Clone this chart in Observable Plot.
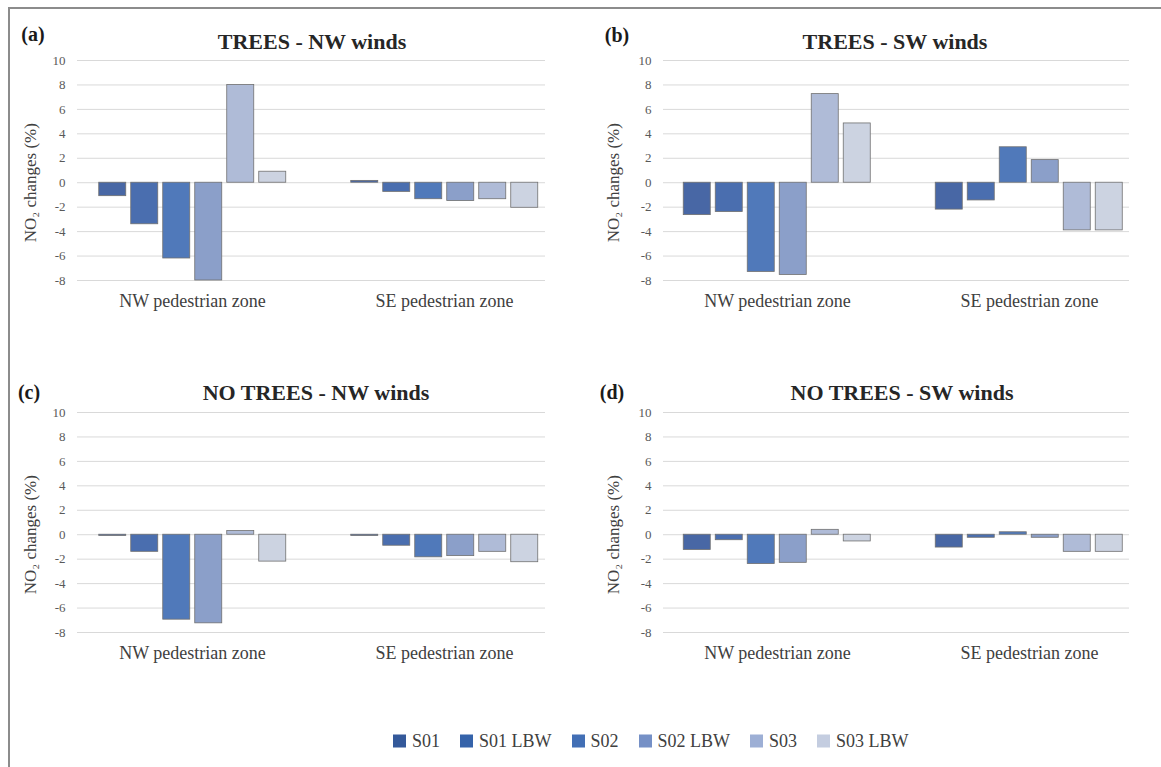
<!DOCTYPE html>
<html>
<head>
<meta charset="utf-8">
<script src="https://cdn.jsdelivr.net/npm/d3@7"></script>
<script src="https://cdn.jsdelivr.net/npm/@observablehq/plot@0.6"></script>
<style>
  body { margin: 0; background: #fff; }
  #root { position: relative; width: 1161px; height: 767px; overflow: hidden; background: #fff;
          font-family: "Liberation Serif", "Times New Roman", serif; }
  .panel { position: absolute; }
  .panel svg { position: absolute; left: 0; top: 0; }
  .title { position: absolute; transform: translate(-50%, -50%); font-weight: bold; font-size: 22px;
           color: #262626; white-space: nowrap; }
  .letter { position: absolute; transform: translate(-50%, -50%); font-weight: bold; font-size: 20px;
            color: #1a1a1a; white-space: nowrap; }
  .frame { position: absolute; background: #8c8c8c; }
  #legend { position: absolute; left: 393px; top: 741px; transform: translateY(-50%); display: flex;
            align-items: center; font-size: 18px; color: #404040; white-space: nowrap; }
  #legend .item { display: flex; align-items: center; margin-right: 20px; }
  #legend .sw { width: 13px; height: 13px; margin-right: 6px; }
</style>
</head>
<body>
<div id="root"></div>
<script>
// ---------- data ----------
const groups = ["NW pedestrian zone", "SE pedestrian zone"];
const series = ["S01", "S01 LBW", "S02", "S02 LBW", "S03", "S03 LBW"];
const yTicks = [-8, -6, -4, -2, 0, 2, 4, 6, 8, 10];
const panelLetters = ["(a)", "(b)", "(c)", "(d)"];
const panelTitles = ["TREES - NW winds", "TREES - SW winds", "NO TREES - NW winds", "NO TREES - SW winds"];
const yLabel = "NO\u2082 changes (%)";

const treesNW_NW = [-1.1, -3.4, -6.2, -8.0, 8.0, 0.9];
const treesNW_SE = [0.15, -0.75, -1.35, -1.5, -1.35, -2.05];
const treesSW_NW = [-2.65, -2.4, -7.3, -7.55, 7.25, 4.85];
const treesSW_SE = [-2.2, -1.45, 2.9, 1.85, -3.9, -3.9];
const noTreesNW_NW = [-0.1, -1.4, -6.95, -7.25, 0.3, -2.2];
const noTreesNW_SE = [-0.1, -0.9, -1.85, -1.75, -1.4, -2.25];
const noTreesSW_NW = [-1.25, -0.45, -2.4, -2.3, 0.4, -0.55];
const noTreesSW_SE = [-1.05, -0.25, 0.2, -0.25, -1.4, -1.4];

const panelValues = [
  [treesNW_NW, treesNW_SE],
  [treesSW_NW, treesSW_SE],
  [noTreesNW_NW, noTreesNW_SE],
  [noTreesSW_NW, noTreesSW_SE]
];

(function () {
// ---------- styles ----------
const barColors = ["#4867a5", "#4a6eaf", "#5079ba", "#8b9fc9", "#afbbd7", "#ccd3e1"];
const legendColors = ["#34599a", "#3563aa", "#426fb5", "#7590c6", "#9dafd5", "#c4cde0"];

const layouts = [
  {left: 0,   top: 40,  width: 580, gridL: 77, gridR: 545, barL: 65.25, barR: 570.25, titleX: 312, titleY: 42,  letterX: 33, letterY: 34,  ylabX: 30},
  {left: 580, top: 40,  width: 581, gridL: 83, gridR: 549, barL: 70.75, barR: 575.75, titleX: 315, titleY: 42,  letterX: 37, letterY: 35,  ylabX: 33},
  {left: 0,   top: 392, width: 580, gridL: 77, gridR: 545, barL: 65.25, barR: 570.25, titleX: 316, titleY: 393, letterX: 29, letterY: 392, ylabX: 30},
  {left: 580, top: 392, width: 581, gridL: 83, gridR: 549, barL: 70.75, barR: 575.75, titleX: 322, titleY: 393, letterX: 32, letterY: 392, ylabX: 33}
];

const root = document.getElementById("root");
const font = '"Liberation Serif", "Times New Roman", serif';

// frame lines
const topLine = document.createElement("div");
topLine.className = "frame";
Object.assign(topLine.style, {left: "8px", top: "7px", width: "1153px", height: "2px"});
root.appendChild(topLine);
const leftLine = document.createElement("div");
leftLine.className = "frame";
Object.assign(leftLine.style, {left: "8px", top: "7px", width: "2px", height: "760px"});
root.appendChild(leftLine);

panelValues.forEach((vals, i) => {
  const L = layouts[i];
  const rows = [];
  groups.forEach((g, gi) => series.forEach((s, si) => rows.push({group: g, series: s, value: vals[gi][si]})));

  const panel = document.createElement("div");
  panel.className = "panel";
  Object.assign(panel.style, {left: L.left + "px", top: "0px", width: L.width + "px", height: "767px"});
  root.appendChild(panel);

  const H = 280, mt = 20, mb = 40;

  const base = Plot.plot({
    width: L.width, height: H,
    marginTop: mt, marginBottom: mb, marginLeft: L.gridL, marginRight: L.width - L.gridR,
    x: {axis: null},
    y: {domain: [-8, 10], axis: null},
    style: {fontFamily: font, fontSize: "13px", color: "#595959", background: "transparent", overflow: "visible"},
    marks: [
      Plot.ruleY(yTicks, {stroke: "#d9d9d9", strokeWidth: 1}),
      Plot.axisY({ticks: yTicks, tickSize: 0, tickPadding: 12, label: null, tickFormat: d => String(d)}),
      Plot.text([yLabel], {text: d => d, y: () => 0, frameAnchor: "left", textAnchor: "middle",
                           dx: L.ylabX - L.gridL, rotate: -90, fontSize: 17, fill: "#404040"})
    ]
  });
  base.style.top = L.top + "px";
  panel.appendChild(base);

  const over = Plot.plot({
    width: L.width, height: H,
    marginTop: mt, marginBottom: mb, marginLeft: L.barL, marginRight: L.width - L.barR,
    fx: {domain: groups, padding: 0, label: null, axis: "bottom", tickSize: 0, tickPadding: 14},
    x: {domain: series, paddingInner: 0.17, paddingOuter: 0.945, axis: null},
    y: {domain: [-8, 10], axis: null},
    color: {domain: series, range: barColors},
    style: {fontFamily: font, fontSize: "18px", color: "#404040", background: "transparent", overflow: "visible"},
    marks: [
      Plot.barY(rows, {fx: "group", x: "series", y: "value", fill: "series",
                       stroke: "#707070", strokeWidth: 0.8})
    ]
  });
  over.style.top = L.top + "px";
  panel.appendChild(over);

  const t = document.createElement("div");
  t.className = "title";
  t.textContent = panelTitles[i];
  Object.assign(t.style, {left: L.titleX + "px", top: L.titleY + "px"});
  panel.appendChild(t);

  const l = document.createElement("div");
  l.className = "letter";
  l.textContent = panelLetters[i];
  Object.assign(l.style, {left: L.letterX + "px", top: L.letterY + "px"});
  panel.appendChild(l);
});

// legend
const legend = document.createElement("div");
legend.id = "legend";
series.forEach((s, i) => {
  const item = document.createElement("div");
  item.className = "item";
  const sw = document.createElement("span");
  sw.className = "sw";
  sw.style.background = legendColors[i];
  const tx = document.createElement("span");
  tx.textContent = s;
  item.appendChild(sw);
  item.appendChild(tx);
  legend.appendChild(item);
});
root.appendChild(legend);
})();
</script>
</body>
</html>
